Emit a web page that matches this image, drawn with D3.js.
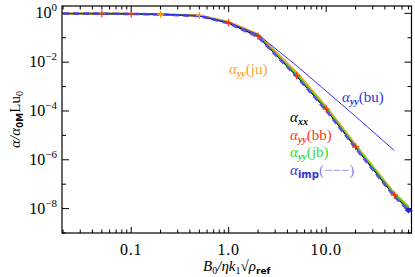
<!DOCTYPE html>
<html>
<head>
<meta charset="utf-8">
<script src="https://cdn.jsdelivr.net/npm/d3@7"></script>
<style>
  body { margin: 0; background: #fff; }
  svg text { font-family: "Liberation Serif", "DejaVu Serif", serif; }
</style>
</head>
<body>
<div id="chart"></div>
<script>
// field strength values (x)
const fieldB = [0.02, 0.05, 0.1, 0.2, 0.5, 1, 2, 5, 10, 20, 50, 70];
const fieldBu = [0.02, 0.05, 0.1, 0.2, 0.5, 1, 2, 5, 10, 20, 50];

// normalised alpha
const alphaXX  = [0.98, 0.97, 0.95, 0.91, 0.78, 0.40, 0.112, 2.6e-3, 1.12e-4, 3.2e-6, 3.3e-8, 9.0e-9];
const alphaBB  = [0.98, 0.97, 0.95, 0.91, 0.79, 0.41, 0.116, 2.8e-3, 1.2e-4, 3.4e-6, 3.6e-8, 1.0e-8];
const alphaJB  = [0.98, 0.97, 0.95, 0.91, 0.80, 0.42, 0.122, 3.1e-3, 1.3e-4, 3.7e-6, 4.0e-8, 1.1e-8];
const alphaImp = [0.98, 0.97, 0.95, 0.90, 0.78, 0.39, 0.108, 2.5e-3, 1.05e-4, 3.0e-6, 3.1e-8, 8.5e-9];
const alphaJU  = [0.98, 0.97, 0.95, 0.92, 0.82, 0.45, 0.14, 3.8e-3, 1.5e-4, 4.2e-6, 4.3e-8, 1.2e-8];
const alphaBU  = [0.98, 0.97, 0.95, 0.92, 0.80, 0.42, 0.135, 7.0e-3, 6.5e-4, 6.0e-5, 2.4e-6];

// where the plus markers sit
const bbMarks = [0.05, 0.1, 1, 2, 5, 10, 20, 50];
const juMarks = [0.2, 0.5];

// tick labels
const xTickVals = [0.1, 1, 10];
const xTickText = ["0.1", "1.0", "10.0"];
const yTickExp = [0, -2, -4, -6, -8];

const width = 415, height = 277;
const mLeft = 62, mRight = 411.5, mTop = 6, mBottom = 233;

const svg = d3.select("#chart").append("svg")
  .attr("width", width).attr("height", height);

const x = d3.scaleLog().domain([0.0195, 75]).range([mLeft, mRight]);
const y = d3.scaleLog().domain([1e-9, 2]).range([mBottom, mTop]);

// frame
svg.append("rect")
  .attr("x", mLeft).attr("y", mTop)
  .attr("width", mRight - mLeft).attr("height", mBottom - mTop)
  .attr("fill", "none").attr("stroke", "#000").attr("stroke-width", 1.2);

// x ticks on bottom and top
const xMinor = [];
[0.01, 0.1, 1, 10].forEach(d => { for (let k = 1; k < 10; k++) { const v = +(d * k).toPrecision(3); if (v >= 0.02 && v <= 75) xMinor.push(v); } });
xMinor.forEach(v => {
  const major = xTickVals.includes(v);
  const len = major ? 6 : 3.5;
  svg.append("line").attr("x1", x(v)).attr("x2", x(v)).attr("y1", mBottom).attr("y2", mBottom - len)
    .attr("stroke", "#000").attr("stroke-width", 1);
  svg.append("line").attr("x1", x(v)).attr("x2", x(v)).attr("y1", mTop).attr("y2", mTop + len)
    .attr("stroke", "#000").attr("stroke-width", 1);
});

// y ticks on left and right
for (let e = -9; e <= 0; e++) {
  const major = yTickExp.includes(e);
  const len = major ? 7 : 4;
  svg.append("line").attr("x1", mLeft).attr("x2", mLeft + len).attr("y1", y(10 ** e)).attr("y2", y(10 ** e))
    .attr("stroke", "#000").attr("stroke-width", 1);
  svg.append("line").attr("x1", mRight).attr("x2", mRight - len).attr("y1", y(10 ** e)).attr("y2", y(10 ** e))
    .attr("stroke", "#000").attr("stroke-width", 1);
}

// tick labels
xTickVals.forEach((v, i) => {
  svg.append("text").attr("x", x(v)).attr("y", 255)
    .attr("text-anchor", "middle").attr("font-size", 16).attr("letter-spacing", 0.8)
    .text(xTickText[i]);
});
yTickExp.forEach(e => {
  const t = svg.append("text").attr("x", 57).attr("y", y(10 ** e) + 5)
    .attr("text-anchor", "end").attr("font-size", 16);
  t.append("tspan").text("10");
  t.append("tspan").attr("dy", -7).attr("font-size", 11).text(e === 0 ? "0" : "\u2212" + (-e));
});

// axis titles
const yt = svg.append("text")
  .attr("transform", "translate(20," + ((mTop + mBottom) / 2) + ") rotate(-90)")
  .attr("text-anchor", "middle").attr("font-size", 15);
yt.append("tspan").attr("font-style", "italic").text("\u03b1/\u03b1");
yt.append("tspan").attr("dy", 3).attr("font-size", 9).attr("font-weight", "bold")
  .attr("font-family", "DejaVu Sans").text("0M");
yt.append("tspan").attr("dy", -3).text("Lu");
yt.append("tspan").attr("dy", 3).attr("font-size", 10).text("0");

const xt = svg.append("text").attr("x", (mLeft + mRight) / 2).attr("y", 271)
  .attr("text-anchor", "middle").attr("font-size", 15);
xt.append("tspan").attr("font-style", "italic").text("B");
xt.append("tspan").attr("dy", 3).attr("font-size", 10).text("0");
xt.append("tspan").attr("dy", -3).attr("font-style", "italic").text("/\u03b7k");
xt.append("tspan").attr("dy", 3).attr("font-size", 10).text("1");
xt.append("tspan").attr("dy", -3).text("\u221a");
xt.append("tspan").attr("font-style", "italic").text("\u03c1");
xt.append("tspan").attr("dy", 3).attr("font-size", 9).attr("font-weight", "bold")
  .attr("font-family", "DejaVu Sans").text("ref");

// curves
const plot = svg.append("g");
const line = d3.line().x(d => x(d[0])).y(d => y(d[1]));
function drawCurve(bs, vals, color, w, dash) {
  plot.append("path")
    .attr("d", line(bs.map((b, i) => [b, vals[i]])))
    .attr("fill", "none").attr("stroke", color).attr("stroke-width", w)
    .attr("stroke-dasharray", dash || null);
}
function drawPlus(bs, series, vals, color) {
  bs.forEach(b => {
    const i = series.indexOf(b);
    const px = x(b), py = y(vals[i]);
    plot.append("path").attr("d", `M${px - 3.5},${py}H${px + 3.5}M${px},${py - 3.5}V${py + 3.5}`)
      .attr("stroke", color).attr("stroke-width", 1.3);
  });
}

drawCurve(fieldB, alphaJU, "#ffaa33", 2.2);
drawCurve(fieldB, alphaBB, "#ff3300", 1.6);
drawCurve(fieldB, alphaJB, "#22dd22", 1.6);
drawCurve(fieldB, alphaXX, "#000000", 1);
drawCurve(fieldB, alphaImp, "#5a4ee6", 2.6, "6,4");
drawCurve(fieldBu, alphaBU, "#3333ee", 1);
drawPlus(bbMarks, fieldB, alphaBB, "#ff3300");
drawPlus(juMarks, fieldB, alphaJU, "#ff9900");

// end marker of the implicit run
const lastB = fieldB[fieldB.length - 1], lastV = alphaImp[alphaImp.length - 1];
plot.append("path")
  .attr("d", `M${x(lastB) - 4},${y(lastV)}L${x(lastB)},${y(lastV) - 3}L${x(lastB) + 4},${y(lastV)}L${x(lastB)},${y(lastV) + 3}Z`)
  .attr("fill", "#2222dd");

// labels
function label(xp, yp, sub, tail, color, tailColor) {
  const t = svg.append("text").attr("x", xp).attr("y", yp).attr("font-size", 15).attr("fill", color);
  t.append("tspan").attr("font-style", "italic").text("\u03b1");
  const s = t.append("tspan").attr("dy", 3).attr("font-size", 10);
  if (sub === "imp") s.attr("font-family", "DejaVu Sans").attr("font-weight", "bold").text(sub);
  else s.attr("font-style", "italic").attr("font-weight", "bold").text(sub);
  if (tail) t.append("tspan").attr("dy", -3).attr("fill", tailColor || color).text(tail);
}
label(229, 74, "yy", "(ju)", "#ffa030");
label(342, 102, "yy", "(bu)", "#3333dd");
label(290, 122, "xx", "", "#000");
label(290, 139.5, "yy", "(bb)", "#ff3a1a");
label(290, 157, "yy", "(jb)", "#33dd33");
label(290, 174.5, "imp", "(\u2212\u2212\u2212)", "#3333cc", "#8888ee");
</script>
</body>
</html>
